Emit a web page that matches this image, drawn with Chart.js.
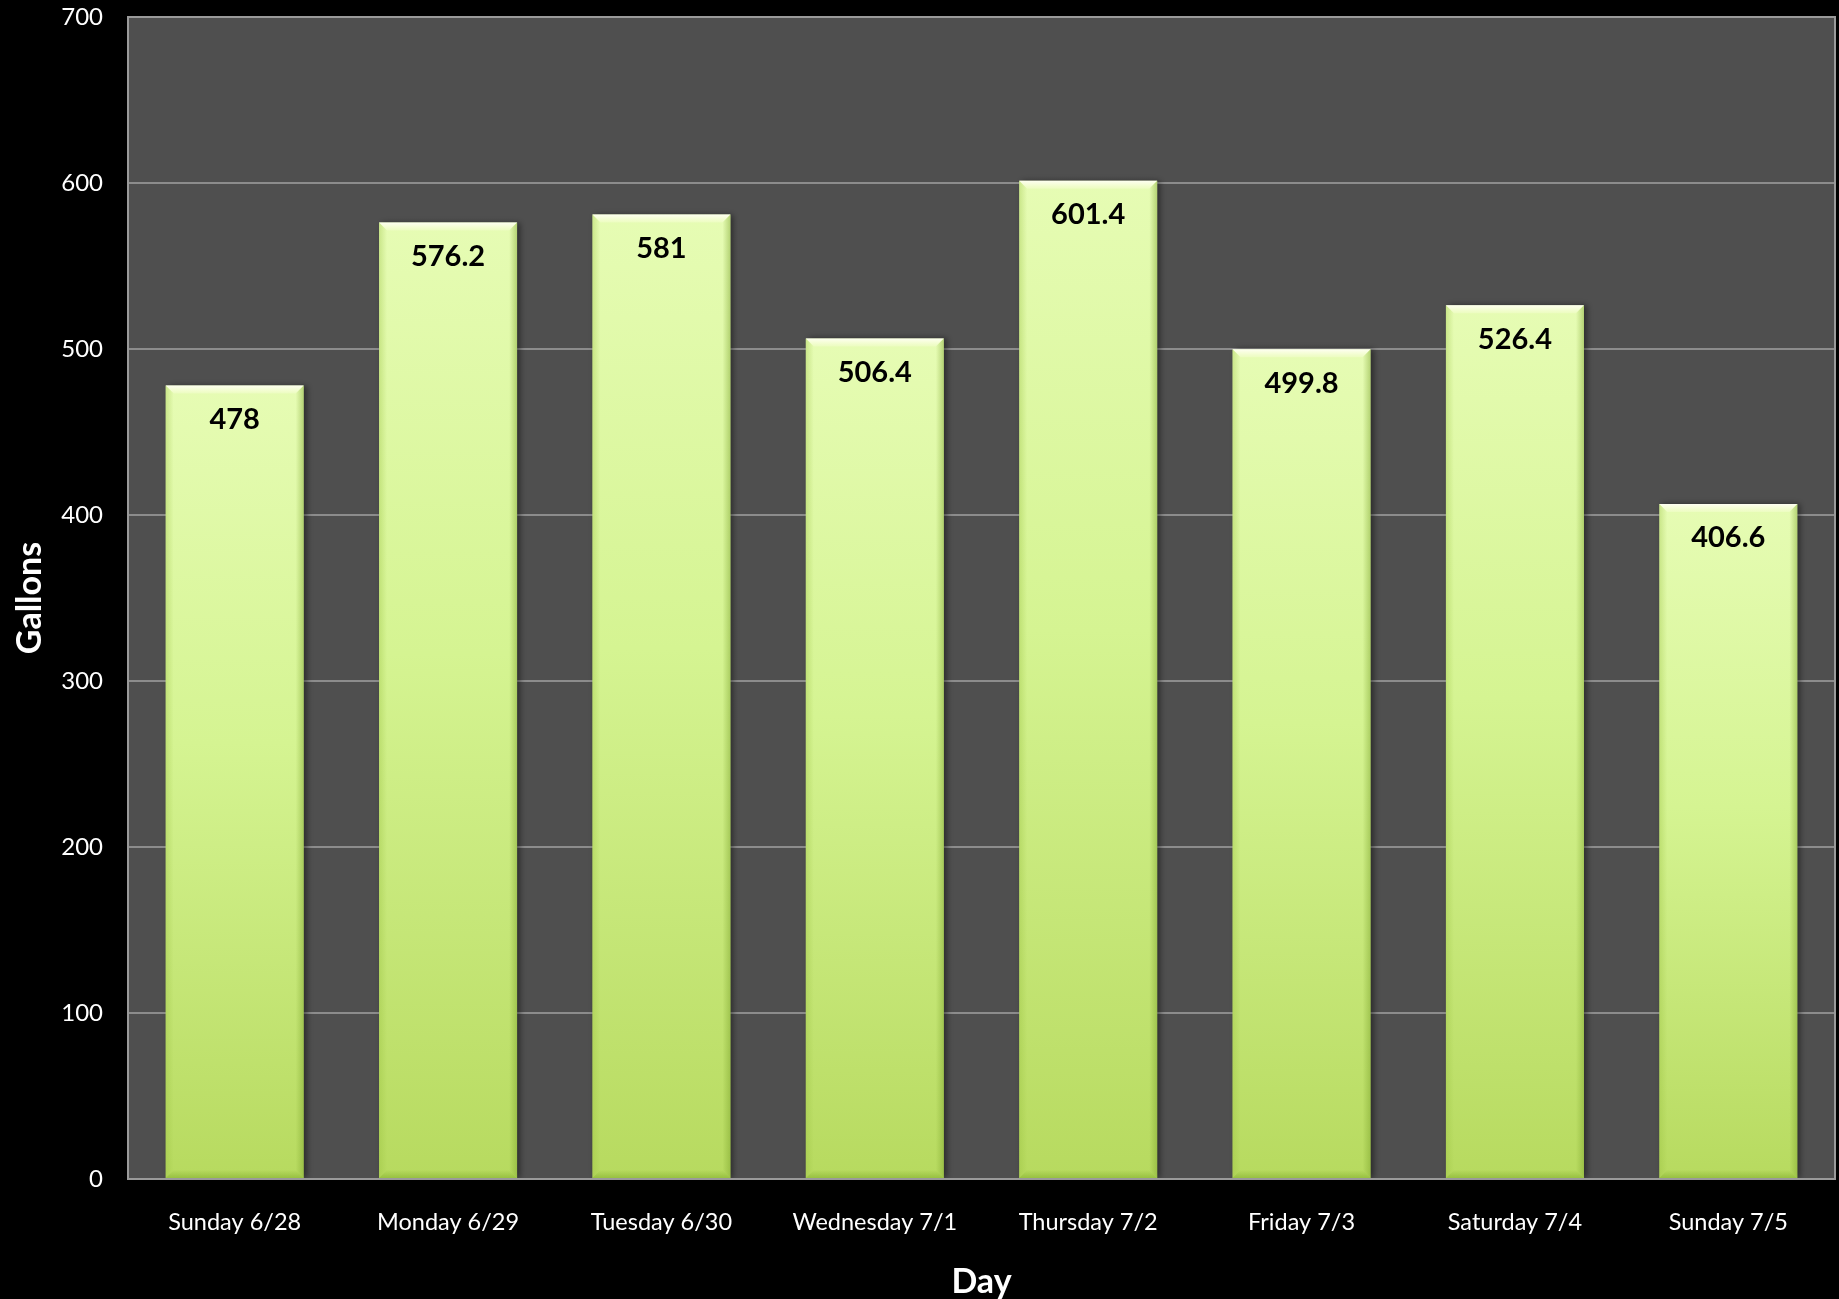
<!DOCTYPE html>
<html>
<head>
<meta charset="utf-8">
<script src="https://cdn.jsdelivr.net/npm/chart.js@4/dist/chart.umd.min.js"></script>
<style>
  html, body { margin: 0; padding: 0; background: #000; }
  #wrap { width: 1839px; height: 1299px; }
</style>
</head>
<body>
<div id="wrap"><canvas id="c" width="1839" height="1299"></canvas></div>
<script>
// Daily water use
const days = ['Sunday 6/28', 'Monday 6/29', 'Tuesday 6/30', 'Wednesday 7/1',
              'Thursday 7/2', 'Friday 7/3', 'Saturday 7/4', 'Sunday 7/5'];
const gallons = [478, 576.2, 581, 506.4, 601.4, 499.8, 526.4, 406.6];
const yTicks = [0, 100, 200, 300, 400, 500, 600, 700];

const FONT = 'Lato, "Open Sans", sans-serif';

// Per-bar vertical gradient, light at the top and deeper green at the base
function barFill(ctx) {
  const chart = ctx.chart;
  const y = chart.scales && chart.scales.y;
  if (!y || ctx.raw == null) return '#d4f390';
  const top = y.getPixelForValue(ctx.raw);
  const base = y.getPixelForValue(0);
  if (!isFinite(top) || !isFinite(base) || top === base) return '#d4f390';
  const g = chart.ctx.createLinearGradient(0, top, 0, base);
  g.addColorStop(0, '#e6fcb4');
  g.addColorStop(0.45, '#d5f492');
  g.addColorStop(1, '#b7da5f');
  return g;
}

// Dark plot background with a grey frame
const plotFrame = {
  id: 'plotFrame',
  beforeDraw(chart) {
    const { ctx, chartArea: a } = chart;
    ctx.save();
    ctx.fillStyle = '#000';
    ctx.fillRect(0, 0, chart.width, chart.height);
    ctx.fillStyle = '#4f4f4f';
    ctx.fillRect(a.left, a.top, a.right - a.left, a.bottom - a.top);
    ctx.restore();
  },
  afterDraw(chart) {
    const { ctx, chartArea: a } = chart;
    ctx.save();
    ctx.strokeStyle = '#9a9a9a';
    ctx.lineWidth = 2;
    ctx.strokeRect(a.left, a.top, a.right - a.left, a.bottom - a.top);
    ctx.restore();
  }
};

// Soft shadow behind the bars
const barShadow = {
  id: 'barShadow',
  beforeDatasetDraw(chart) {
    const ctx = chart.ctx;
    ctx.save();
    ctx.shadowColor = 'rgba(0,0,0,0.45)';
    ctx.shadowBlur = 6;
    ctx.shadowOffsetX = 3;
    ctx.shadowOffsetY = 0;
  },
  afterDatasetDraw(chart) {
    chart.ctx.restore();
  }
};

// Bevelled edges and value labels on each bar
const bevelAndLabels = {
  id: 'bevelAndLabels',
  afterDatasetsDraw(chart) {
    const ctx = chart.ctx;
    const meta = chart.getDatasetMeta(0);
    const bev = 8;
    meta.data.forEach((bar, i) => {
      const { x, y, base, width } = bar.getProps(['x', 'y', 'base', 'width'], true);
      if (![x, y, base, width].every(isFinite)) return;
      const l = x - width / 2, r = x + width / 2;
      ctx.save();
      // top highlight
      let g = ctx.createLinearGradient(0, y, 0, y + bev);
      g.addColorStop(0, 'rgba(255,255,245,0.95)');
      g.addColorStop(1, 'rgba(255,255,230,0.25)');
      ctx.fillStyle = g;
      ctx.beginPath();
      ctx.moveTo(l, y); ctx.lineTo(r, y); ctx.lineTo(r - bev, y + bev); ctx.lineTo(l + bev, y + bev);
      ctx.closePath(); ctx.fill();
      // left edge
      g = ctx.createLinearGradient(l, 0, l + bev, 0);
      g.addColorStop(0, 'rgba(150,190,60,0.35)');
      g.addColorStop(1, 'rgba(150,190,60,0)');
      ctx.fillStyle = g;
      ctx.beginPath();
      ctx.moveTo(l, y); ctx.lineTo(l + bev, y + bev); ctx.lineTo(l + bev, base - bev); ctx.lineTo(l, base);
      ctx.closePath(); ctx.fill();
      // right edge
      g = ctx.createLinearGradient(r, 0, r - bev, 0);
      g.addColorStop(0, 'rgba(120,160,40,0.45)');
      g.addColorStop(1, 'rgba(120,160,40,0)');
      ctx.fillStyle = g;
      ctx.beginPath();
      ctx.moveTo(r, y); ctx.lineTo(r - bev, y + bev); ctx.lineTo(r - bev, base - bev); ctx.lineTo(r, base);
      ctx.closePath(); ctx.fill();
      // bottom edge
      g = ctx.createLinearGradient(0, base, 0, base - bev);
      g.addColorStop(0, 'rgba(130,175,45,0.6)');
      g.addColorStop(1, 'rgba(130,175,45,0)');
      ctx.fillStyle = g;
      ctx.beginPath();
      ctx.moveTo(l, base); ctx.lineTo(r, base); ctx.lineTo(r - bev, base - bev); ctx.lineTo(l + bev, base - bev);
      ctx.closePath(); ctx.fill();

      // value label
      ctx.fillStyle = '#000';
      ctx.font = 'bold 29px ' + FONT;
      ctx.textAlign = 'center';
      ctx.textBaseline = 'middle';
      ctx.fillText(String(gallons[i]), x, y + 34);
      ctx.restore();
    });
  }
};

new Chart(document.getElementById('c'), {
  type: 'bar',
  data: {
    labels: days,
    datasets: [{
      label: 'Gallons',
      data: gallons,
      backgroundColor: barFill,
      borderWidth: 0,
      categoryPercentage: 1,
      barPercentage: 0.647
    }]
  },
  options: {
    responsive: false,
    animation: false,
    events: [],
    layout: { padding: { top: 17, right: 4, left: 0, bottom: 0 } },
    plugins: { legend: { display: false }, tooltip: { enabled: false } },
    scales: {
      x: {
        grid: { display: false, drawTicks: false },
        border: { display: false },
        ticks: { color: '#fff', font: { family: FONT, size: 23.5 }, padding: 29, maxRotation: 0 },
        title: { display: true, text: 'Day', color: '#fff', font: { family: FONT, size: 34, weight: 'bold', lineHeight: 1.0 }, padding: { top: 0, bottom: 0 } },
        afterFit(s) { s.height = 120; s.paddingLeft = 0; s.paddingRight = 0; }
      },
      y: {
        min: 0,
        max: 700,
        afterBuildTicks(s) { s.ticks = yTicks.map(v => ({ value: v })); },
        grid: { color: '#8c8c8c', lineWidth: 2, drawTicks: false },
        border: { display: false },
        ticks: { color: '#fff', font: { family: FONT, size: 24 }, padding: 25 },
        title: { display: true, text: 'Gallons', color: '#fff', font: { family: FONT, size: 34, weight: 'bold' }, padding: { top: 10, bottom: 0 } },
        afterFit(s) { s.width = 128; s.paddingTop = 0; s.paddingBottom = 0; }
      }
    }
  },
  plugins: [plotFrame, barShadow, bevelAndLabels]
});
</script>
</body>
</html>
